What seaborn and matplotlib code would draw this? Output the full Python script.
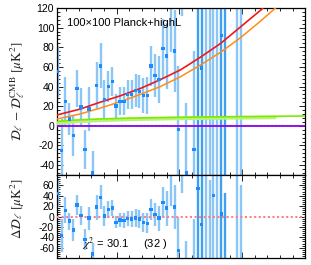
import numpy as np
import pandas as pd
import matplotlib
matplotlib.use("Agg")
import matplotlib.pyplot as plt
import seaborn as sns
from matplotlib.ticker import MultipleLocator

# ---------------- data ----------------
bins = [0, 1, 2, 3, 4, 5, 6, 7, 8, 9, 10, 11, 12, 13, 14, 15, 16, 17, 18, 19,
        20, 21, 22, 23, 24, 25, 26, 27, 28, 29, 30, 31, 32, 33, 35, 36, 37, 38,
        39, 40, 41, 42, 43, 46, 47]
ell = [31 + 31 * b for b in bins]
top_vals = [55, -25, 25, 7, -10, 38, 19, -24, 17, -48, 41, 61, 27, 40, 45, 20,
            25, 25, 32, 32, 36, 35, 31, 31, 61, 51, 47, 79, 71, 145, 76, -4,
            200, -48, -24, 134, 59, 210, -110, 127, 230, 92, -120, 250, -150]
errs = [26, 32, 25, 16, 21, 19, 19, 20, 22, 22, 24, 23, 20, 16, 15, 12,
        14, 14, 15, 15, 17, 17, 18, 19, 20, 22, 24, 30, 34, 70, 42, 65,
        88, 71, 100, 200, 170, 270, 260, 190, 290, 160, 250, 320, 300]
resid_vals = [44, -37, 12, -9, -26, 22, 2, -44, -3, -72, 18, 37, 1, 13, 16, -11,
              -7, -8, -4, -5, -3, -5, -11, -13, 14, 4, -3, 27, 16, 90, 18, -65,
              134, -118, -104, 54, -15, 130, -190, 40, 145, 5, -205, 155, -240]
dark_bins = [36, 37, 42, 43]

model_ell = [25, 209, 369, 529, 689, 849, 1009, 1169, 1329, 1489, 1649, 1809]
red_vals = [11, 17, 24, 30.5, 38, 47, 57, 70, 84, 101, 118, 138]
orange_vals = [7, 12, 18, 24.5, 32, 40, 50, 62, 75, 90, 107, 125]

green_ell = [25, 200, 369, 600, 900, 1329, 1700, 2000]
green_vals = [4.5, 6, 7, 7.8, 8.5, 9.2, 9.6, 10]
lgreen_ell = [25, 200, 369, 600, 900, 1329, 1760]
lgreen_vals = [2.5, 4.5, 5.5, 6.5, 7.3, 8.0, 8.5]
flat_ell = [25, 2000]
dotted_green_vals = [1.2, 1.2]
purple_vals = [0, 0]
zero_vals = [0, 0]

chi2_text = r"$\chi^2$ = 30.1     (32 )"
label_text = "100×100 Planck+highL"

# ---------------- style ----------------
sns.set_theme(style="ticks")
plt.rcParams['font.family'] = ['Liberation Sans', 'DejaVu Sans']
plt.rcParams['mathtext.fontset'] = 'stix'
plt.rcParams['axes.unicode_minus'] = False

df = pd.DataFrame({"bin": bins, "ell": ell, "top": top_vals, "err": errs,
                   "resid": resid_vals})
df["dark"] = df["bin"].isin(dark_bins)

fig = plt.figure(figsize=(3.11, 2.65), dpi=100)
ax1 = fig.add_axes([0.183, 0.340, 0.798, 0.630])
ax2 = fig.add_axes([0.183, 0.026, 0.798, 0.314])

light = "#8cc6f7"
dark = "#3f9ff0"
mcol = "#1a8cff"

for ax, col in [(ax1, "top"), (ax2, "resid")]:
    for isdark, sub in df.groupby("dark"):
        ax.errorbar(sub["ell"], sub[col], yerr=sub["err"], fmt="none",
                    ecolor=dark if isdark else light, elinewidth=1.7,
                    capsize=0, zorder=2)

# curves in top panel
sns.lineplot(x=lgreen_ell, y=lgreen_vals, ax=ax1, color="#b9f27c", lw=2.6, zorder=3)
sns.lineplot(x=green_ell, y=green_vals, ax=ax1, color="#7dea00", lw=1.2, zorder=3)
sns.lineplot(x=flat_ell, y=dotted_green_vals, ax=ax1, color="#a8e070", lw=1.0,
             ls=(0, (1.2, 1.5)), zorder=3)
sns.lineplot(x=flat_ell, y=purple_vals, ax=ax1, color="#8a00f0", lw=1.3, zorder=3)
sns.lineplot(x=model_ell, y=orange_vals, ax=ax1, color="#ff8c1a", lw=1.1, zorder=3)
sns.lineplot(x=model_ell, y=red_vals, ax=ax1, color="#f01818", lw=1.2, zorder=3)

sns.scatterplot(data=df, x="ell", y="top", ax=ax1, marker="s", s=6,
                color=mcol, edgecolor="none", linewidth=0, zorder=5)

# bottom panel
sns.lineplot(x=flat_ell, y=zero_vals, ax=ax2, color="#ff8080", lw=1.5,
             ls=(0, (1, 1.2)), zorder=3)
sns.scatterplot(data=df, x="ell", y="resid", ax=ax2, marker="s", s=6,
                color=mcol, edgecolor="none", linewidth=0, zorder=5)

ax1.set_xlim(25, 2000)
ax2.set_xlim(25, 2000)
ax1.set_ylim(-50, 120)
ax2.set_ylim(-80, 80)

ax1.set_yticks(np.arange(-40, 121, 20))
ax2.set_yticks(np.arange(-60, 61, 20))
for ax in (ax1, ax2):
    ax.xaxis.set_major_locator(MultipleLocator(500))
    ax.xaxis.set_minor_locator(MultipleLocator(100))
    ax.yaxis.set_minor_locator(MultipleLocator(4))
    ax.tick_params(which="both", direction="in", top=True, right=True,
                   labelbottom=False, width=0.6, colors="black",
                   labelsize=7.5, pad=2)
    ax.tick_params(which="major", length=4)
    ax.tick_params(which="minor", length=2)
    ax.set_xlabel("")
    for s in ax.spines.values():
        s.set_linewidth(0.9)
        s.set_color("black")
    if ax.get_legend():
        ax.get_legend().remove()

ax1.set_ylabel(r"$\mathcal{D}_\ell\,-\,\mathcal{D}_\ell^{\rm CMB}\ [\mu{\rm K}^2]$",
               fontsize=9.5)
ax1.yaxis.set_label_coords(-0.12, 0.5)
ax2.set_ylabel(r"$\Delta\mathcal{D}_\ell\ [\mu{\rm K}^2]$", fontsize=9.5)
ax2.yaxis.set_label_coords(-0.12, 0.6)

ax1.text(0.04, 0.91, label_text, transform=ax1.transAxes, fontsize=8,
         va="center", ha="left", color="black")
ax2.text(0.10, 0.17, chi2_text, transform=ax2.transAxes, fontsize=8,
         va="center", ha="left", color="black")

fig.savefig("out.png", dpi=100)
